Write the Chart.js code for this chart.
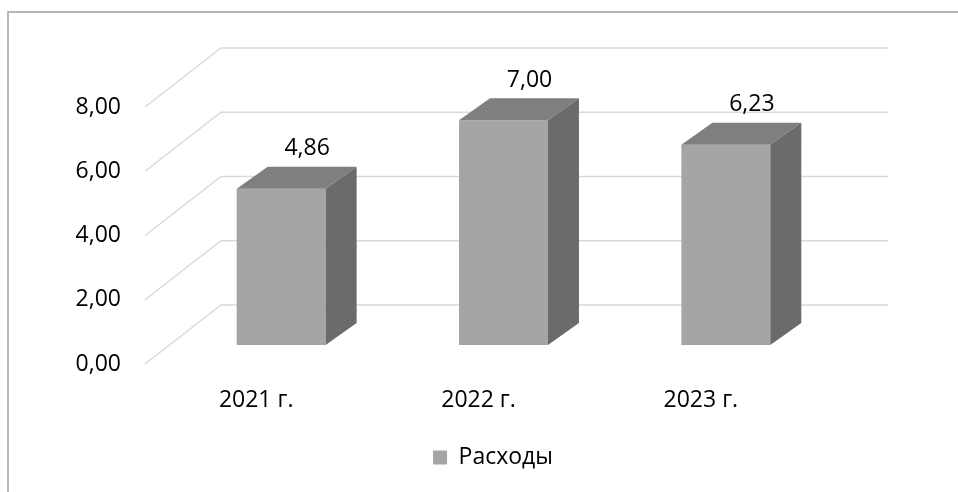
<!DOCTYPE html>
<html>
<head>
<meta charset="utf-8">
<script src="https://cdn.jsdelivr.net/npm/chart.js@4"></script>
<style>
  html, body { margin: 0; padding: 0; background: #fff; }
  #wrap { width: 958px; height: 492px; }
</style>
</head>
<body>
<div id="wrap"><canvas id="chart" width="958" height="492"></canvas></div>
<script>
// chart data
const years = ['2021 г.', '2022 г.', '2023 г.'];
const expenses = [4.86, 7.00, 6.23];
const yTickLabels = ['0,00', '2,00', '4,00', '6,00', '8,00'];
const seriesName = 'Расходы';

// 3D look: shift of the bar plane and depth of the boxes / back wall
const barShift = { x: 25, y: -19 };
const barDepth = { x: 31, y: -22 };
const wallDepth = { x: 76, y: -59 };

const fontFamily = '"Open Sans", sans-serif';

const frame = {
    id: 'frame',
    afterLayout(chart) {
        // legend sits under the middle of the floor, not the canvas
        chart.legend.left += 87;
        chart.legend.right += 87;
    },
    beforeDraw(chart) {
        const ctx = chart.ctx;
        ctx.save();
        ctx.strokeStyle = '#a0a0a0';
        ctx.lineWidth = 1.5;
        ctx.beginPath();
        ctx.moveTo(8, chart.height);
        ctx.lineTo(8, 12);
        ctx.lineTo(chart.width, 12);
        ctx.stroke();

        // floor diagonals + back wall lines
        const y = chart.scales.y;
        const area = chart.chartArea;
        ctx.strokeStyle = '#d9d9d9';
        y.ticks.forEach(t => {
            const py = y.getPixelForValue(t.value);
            ctx.beginPath();
            ctx.moveTo(area.left, py);
            ctx.lineTo(area.left + wallDepth.x, py + wallDepth.y);
            ctx.lineTo(area.right + wallDepth.x, py + wallDepth.y);
            ctx.stroke();
        });
        ctx.restore();
    }
};

const bars3d = {
    id: 'bars3d',
    beforeDatasetsDraw(chart) {
        chart.ctx.save();
        chart.ctx.translate(barShift.x, barShift.y);
    },
    afterDatasetsDraw(chart) {
        const ctx = chart.ctx;
        ctx.restore();
        ctx.save();
        const meta = chart.getDatasetMeta(0);
        meta.data.forEach((bar, i) => {
            const l = bar.x - bar.width / 2 + barShift.x;
            const r = bar.x + bar.width / 2 + barShift.x;
            const t = bar.y + barShift.y;
            const b = bar.base + barShift.y;
            // top
            ctx.fillStyle = '#7f7f7f';
            ctx.beginPath();
            ctx.moveTo(l, t);
            ctx.lineTo(r, t);
            ctx.lineTo(r + barDepth.x, t + barDepth.y);
            ctx.lineTo(l + barDepth.x, t + barDepth.y);
            ctx.closePath();
            ctx.fill();
            // side
            ctx.fillStyle = '#6b6b6b';
            ctx.beginPath();
            ctx.moveTo(r, t);
            ctx.lineTo(r + barDepth.x, t + barDepth.y);
            ctx.lineTo(r + barDepth.x, b + barDepth.y);
            ctx.lineTo(r, b);
            ctx.closePath();
            ctx.fill();
            // value label
            ctx.fillStyle = '#000';
            ctx.font = '23px ' + fontFamily;
            ctx.textAlign = 'center';
            ctx.textBaseline = 'middle';
            ctx.fillText(expenses[i].toFixed(2).replace('.', ','), bar.x + barShift.x + 26, t + barDepth.y - 18);
        });
        ctx.restore();
    }
};

new Chart(document.getElementById('chart'), {
    type: 'bar',
    data: {
        labels: years,
        datasets: [{
            label: seriesName,
            data: expenses,
            backgroundColor: '#a5a5a5',
            borderWidth: 0,
            barPercentage: 0.4,
            categoryPercentage: 1
        }]
    },
    options: {
        responsive: false,
        animation: false,
        layout: { padding: { left: 0, top: 107, right: 146, bottom: 13 } },
        scales: {
            x: {
                grid: { display: false, drawTicks: false },
                border: { display: false },
                ticks: { color: '#000', font: { family: fontFamily, size: 23 }, padding: 23 },
                afterFit: s => { s.height = 72; }
            },
            y: {
                min: 0,
                max: 8,
                grid: { display: false, drawTicks: false },
                border: { display: false },
                ticks: {
                    stepSize: 2,
                    color: '#000',
                    font: { family: fontFamily, size: 23 },
                    padding: 24,
                    callback: (v, i) => yTickLabels[i]
                },
                afterFit: s => { s.width = 145; }
            }
        },
        plugins: {
            legend: {
                position: 'bottom',
                labels: {
                    color: '#000',
                    font: { family: fontFamily, size: 23 },
                    boxWidth: 14,
                    boxHeight: 14
                }
            },
            tooltip: { enabled: false }
        }
    },
    plugins: [frame, bars3d]
});
</script>
</body>
</html>
